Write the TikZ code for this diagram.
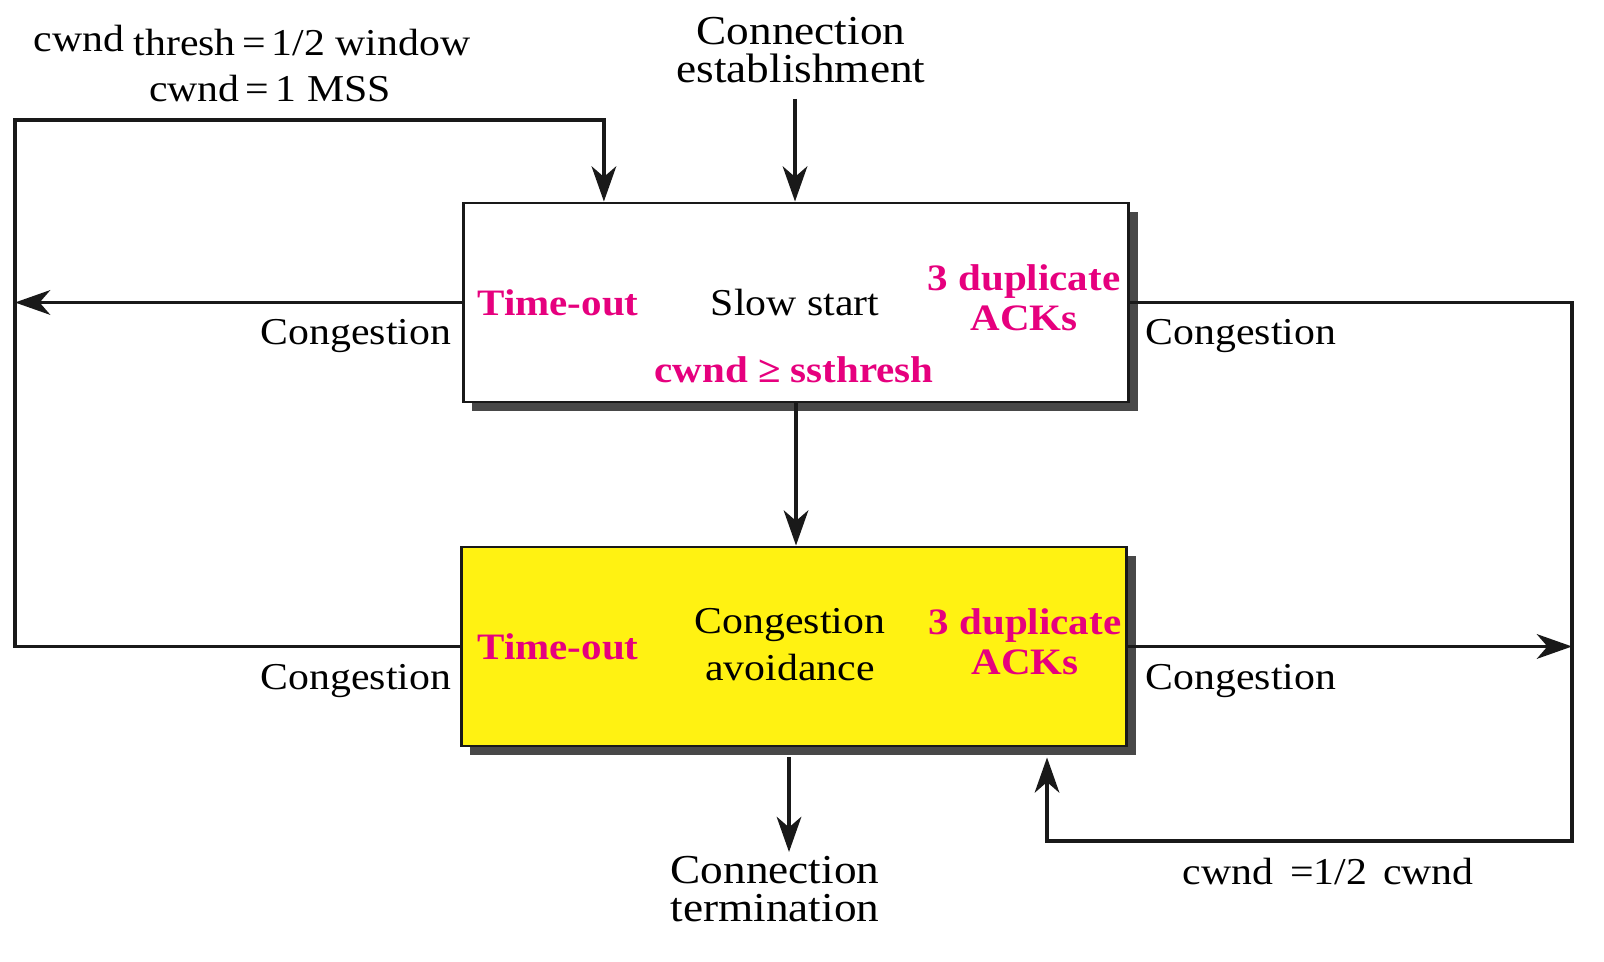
\documentclass[tikz,border=0pt]{standalone}
\usepackage{fontspec}
\setmainfont{Liberation Serif}[FakeStretch=1.1]
\usetikzlibrary{arrows.meta,calc,shadows}
\definecolor{mag}{RGB}{230,0,126}
\definecolor{boxyellow}{RGB}{255,242,18}
\definecolor{shadowgray}{RGB}{72,72,72}
\begin{document}
\begin{tikzpicture}[x=0.01cm,y=0.01cm,
  line/.style={line width=1.1pt,draw=black!90,line join=miter},
  arr/.style={line,-{Stealth[length=10pt,width=7pt,inset=3pt]}},
  statebox/.style={draw=black!90,line width=0.8pt,minimum width=6.65cm,minimum height=1.99cm,
     drop shadow={shadow xshift=0.09cm,shadow yshift=-0.09cm,fill=shadowgray,opacity=1}},
  lbl/.style={inner sep=0pt,font=\fontsize{10.8}{11}\selectfont,align=center},
  big/.style={inner sep=0pt,font=\fontsize{11.7}{11}\selectfont,align=center},
  red/.style={lbl,font=\fontsize{10.6}{11.3}\selectfont\bfseries,text=mag}
]
\useasboundingbox (0,0) rectangle (1604,-962);
\node[statebox,fill=white] (ss) at (796,-302.5) {};
\node[statebox,fill=boxyellow] (ca) at (794,-646.5) {};

\coordinate (estart) at (795,-99);
\coordinate (lc) at (15,-120);
\coordinate (tl) at ($(ss.north west)+(142,0)$);
\coordinate (rc) at (1572,-841);
\coordinate (lowup) at (1047,-841);
\coordinate (tend) at (789,-852);

% connectors
\draw[arr] (estart) -- (estart |- ss.north);
\draw[arr] (ca.west) -- (ca.west -| lc) -- (lc) -| (tl);
\draw[arr] (ss.west) -- (ss.west -| lc);
\draw[arr] (ss.east) -- (ss.east -| rc) -- (rc) -- (lowup) -- ($(lowup |- ca.south)+(0,-10)$);
\draw[arr] (ca.east) -- (ca.east -| rc);
\draw[arr] (ss.south) -- (ss.south |- ca.north);
\draw[arr] ($(tend |- ca.south)+(0,-10)$) -- (tend);

% top texts
\node[lbl] (cw1) at (79,-39) {cwnd};
\node[lbl] (thr) at (302,-43) {thresh\,=\,1/2 window};
\node[lbl] (cw2) at (270,-89) {cwnd\,=\,1 MSS};
\node[big] (est) at (801,-50) {Connection\\establishment};

% side labels
\node[lbl] (cg1) at (356,-336) {Congestion};
\node[lbl] (cg2) at (356,-681) {Congestion};
\node[lbl] (cg3) at (1241,-336) {Congestion};
\node[lbl] (cg4) at (1241,-681) {Congestion};

% slow start box
\node[red] (to1) at (558,-303) {Time-out};
\node[lbl] (sst) at (795,-303) {Slow start};
\node[red] (dup1) at (1024,-298) {3 duplicate\\ACKs};
\node[red] (cmp) at (794,-370) {cwnd ≥ ssthresh};

% congestion avoidance box
\node[red] (to2) at (558,-647) {Time-out};
\node[lbl,font=\fontsize{10.8}{13.4}\selectfont] (cav) at (790,-645) {Congestion\\avoidance};
\node[red] (dup2) at (1025,-642) {3 duplicate\\ACKs};

% bottom texts
\node[big] (term) at (775,-889) {Connection\\termination};
\node[lbl] (half) at (1328,-872) {cwnd\hspace{0.17cm}=1/2\hspace{0.16cm}cwnd};
\end{tikzpicture}
\end{document}
